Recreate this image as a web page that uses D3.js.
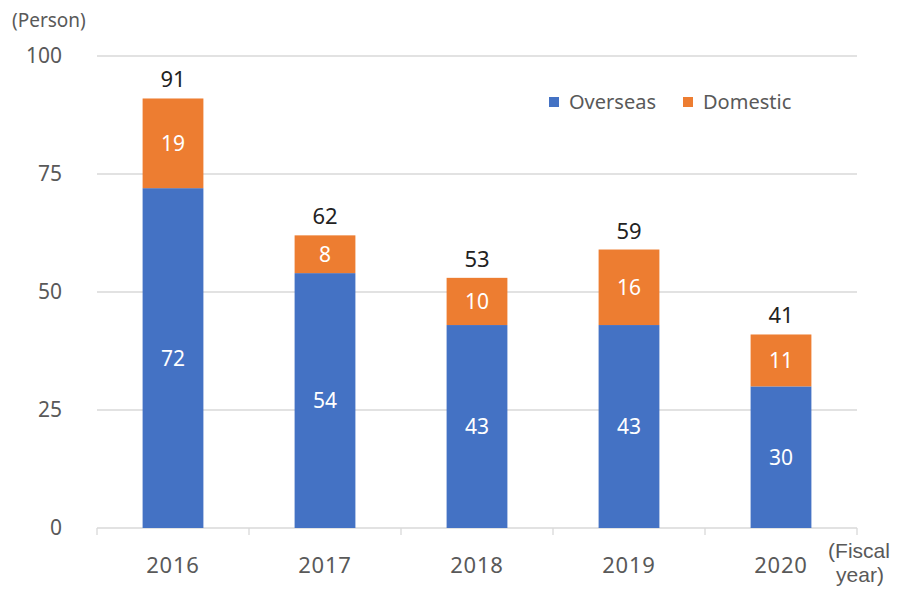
<!DOCTYPE html>
<html>
<head>
<meta charset="utf-8">
<script src="https://cdn.jsdelivr.net/npm/d3@7"></script>
<style>
  body { margin: 0; background: #fff; }
  #chart { width: 898px; height: 591px; }
  text { font-family: "Noto Sans", "DejaVu Sans", sans-serif; }
</style>
</head>
<body>
<div id="chart"></div>
<script>
const years = ["2016", "2017", "2018", "2019", "2020"];
const overseas = [72, 54, 43, 43, 30];
const domestic = [19, 8, 10, 16, 11];
const totals = [91, 62, 53, 59, 41];
const yTicks = [0, 25, 50, 75, 100];
const seriesNames = ["Overseas", "Domestic"];
const colors = ["#4472C4", "#ED7D31"];

function renderChart(selector) {
    const W = 898, H = 591;
    const margin = {top: 56, right: 41, bottom: 63, left: 97};
    const width = W - margin.left - margin.right;
    const height = H - margin.top - margin.bottom;

    const svg = d3.select(selector).append("svg")
        .attr("width", W)
        .attr("height", H)
        .append("g")
        .attr("transform", `translate(${margin.left}, ${margin.top})`);

    const x = d3.scaleBand()
        .domain(years)
        .range([0, width])
        .paddingInner(0.6)
        .paddingOuter(0.3);

    const y = d3.scaleLinear()
        .domain([0, 100])
        .range([height, 0]);

    // gridlines
    svg.append("g")
        .selectAll("line")
        .data(yTicks.filter(d => d > 0))
        .enter()
        .append("line")
        .attr("x1", 0)
        .attr("x2", width)
        .attr("y1", d => y(d))
        .attr("y2", d => y(d))
        .attr("stroke", "#d9d9d9")
        .attr("stroke-width", 1.3);

    // y axis labels
    const yAxis = svg.append("g")
        .attr("transform", "translate(-35, 0)")
        .call(d3.axisLeft(y).tickValues(yTicks).tickSize(0).tickPadding(0));
    yAxis.select(".domain").remove();
    yAxis.selectAll("text")
        .attr("fill", "#595959")
        .attr("font-size", "21px")
        .style("font-family", "'Noto Sans', sans-serif");

    // x axis
    const step = x.step();
    const xAxis = svg.append("g")
        .attr("transform", `translate(0, ${height})`);
    xAxis.append("line")
        .attr("x1", 0).attr("x2", width)
        .attr("stroke", "#d9d9d9").attr("stroke-width", 1.3);
    xAxis.selectAll(".tick-mark")
        .data(d3.range(years.length + 1))
        .enter()
        .append("line")
        .attr("x1", i => i * step).attr("x2", i => i * step)
        .attr("y1", 0).attr("y2", 7)
        .attr("stroke", "#d9d9d9").attr("stroke-width", 1.3);
    xAxis.selectAll(".xlab")
        .data(years)
        .enter()
        .append("text")
        .attr("x", d => x(d) + x.bandwidth() / 2)
        .attr("y", 45)
        .attr("text-anchor", "middle")
        .attr("fill", "#595959")
        .attr("font-size", "22px")
        .attr("letter-spacing", "0.8px")
        .text(d => d);

    // stacked bars
    const stacked = years.map((yr, i) => ({year: yr, values: [overseas[i], domestic[i]]}));
    const groups = svg.selectAll(".bar-group")
        .data(stacked)
        .enter()
        .append("g");

    groups.each(function(d) {
        let base = 0;
        d.values.forEach((v, k) => {
            const g = d3.select(this);
            g.append("rect")
                .attr("x", x(d.year))
                .attr("y", y(base + v))
                .attr("width", x.bandwidth())
                .attr("height", y(base) - y(base + v))
                .attr("fill", colors[k]);
            g.append("text")
                .attr("x", x(d.year) + x.bandwidth() / 2)
                .attr("y", (y(base) + y(base + v)) / 2)
                .attr("dy", "0.36em")
                .attr("text-anchor", "middle")
                .attr("fill", "#fff")
                .attr("font-size", "21px")
                .text(v);
            base += v;
        });
    });

    // totals
    svg.selectAll(".total")
        .data(totals)
        .enter()
        .append("text")
        .attr("x", (d, i) => x(years[i]) + x.bandwidth() / 2)
        .attr("y", d => y(d) - 11)
        .attr("text-anchor", "middle")
        .attr("fill", "#222")
        .attr("font-size", "22px")
        .text(d => d);

    // legend
    const legend = svg.append("g").attr("transform", "translate(452, 46)");
    const legendX = [0, 134];
    seriesNames.forEach((name, k) => {
        legend.append("rect")
            .attr("x", legendX[k]).attr("y", -5)
            .attr("width", 10).attr("height", 10)
            .attr("fill", colors[k]);
        legend.append("text")
            .attr("x", legendX[k] + 20).attr("y", 0)
            .attr("dy", "0.36em")
            .attr("fill", "#595959")
            .attr("font-size", "20px")
            .text(name);
    });

    // unit labels
    svg.append("text")
        .attr("x", -85).attr("y", -29)
        .attr("fill", "#595959")
        .attr("font-size", "19px")
        .text("(Person)");

    const fy = svg.append("text")
        .attr("y", height + 30)
        .attr("text-anchor", "middle")
        .attr("fill", "#595959")
        .attr("font-size", "21px")
        .style("font-family", "'Liberation Sans Narrow', 'Liberation Sans', sans-serif");
    fy.append("tspan").attr("x", width + 2).text("(Fiscal");
    fy.append("tspan").attr("x", width + 3).attr("dy", 24).text("year)");
}

renderChart("#chart");
</script>
</body>
</html>
